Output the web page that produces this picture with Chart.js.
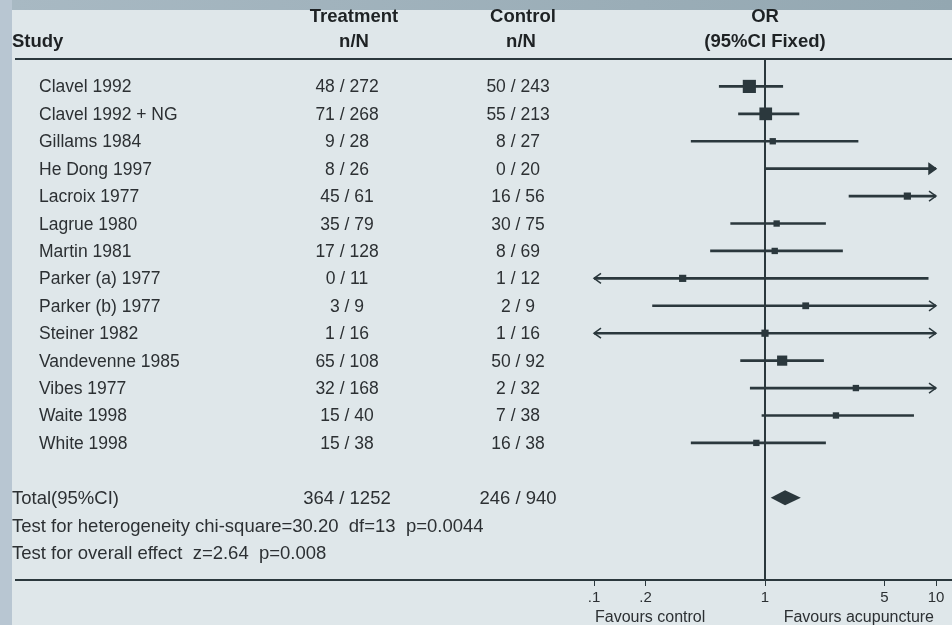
<!DOCTYPE html>
<html>
<head>
<meta charset="utf-8">
<script src="https://cdn.jsdelivr.net/npm/chart.js@4.4.0/dist/chart.umd.min.js"></script>
<style>
  html, body { margin: 0; padding: 0; }
  body { width: 952px; height: 625px; background: #b8c6d2; position: relative; overflow: hidden; }
  #band { position: absolute; left: 12px; top: 0; width: 940px; height: 10px; background: linear-gradient(90deg, #a8b9c3, #93a7b1); }
  #panel { position: absolute; left: 12px; top: 10px; width: 940px; height: 615px; background: #dfe7ea; }
  #wrap { position: absolute; left: 0; top: 0; width: 952px; height: 625px; }
</style>
</head>
<body>
<div id="band"></div>
<div id="panel"></div>
<div id="wrap"><canvas id="forestChart"></canvas></div>
<script>
const studies = ['Clavel 1992', 'Clavel 1992 + NG', 'Gillams 1984', 'He Dong 1997', 'Lacroix 1977',
  'Lagrue 1980', 'Martin 1981', 'Parker (a) 1977', 'Parker (b) 1977', 'Steiner 1982',
  'Vandevenne 1985', 'Vibes 1977', 'Waite 1998', 'White 1998'];
const treatEvents = [48, 71, 9, 8, 45, 35, 17, 0, 3, 1, 65, 32, 15, 15];
const treatTotal = [272, 268, 28, 26, 61, 79, 128, 11, 9, 16, 108, 168, 40, 38];
const ctrlEvents = [50, 55, 8, 0, 16, 30, 8, 1, 2, 1, 50, 2, 7, 16];
const ctrlTotal = [243, 213, 27, 20, 56, 75, 69, 12, 9, 16, 92, 32, 38, 38];

// odds ratios; values beyond the axis end in arrows
const oddsRatio = [0.81, 1.01, 1.11, 18.8, 6.8, 1.17, 1.14, 0.33, 1.73, 1.0, 1.26, 3.4, 2.6, 0.89];
const ciLower = [0.54, 0.70, 0.37, 1.0, 3.1, 0.63, 0.48, 0.012, 0.22, 0.06, 0.72, 0.82, 0.96, 0.37];
const ciUpper = [1.27, 1.58, 3.5, 357, 15.9, 2.26, 2.84, 9.0, 14, 17, 2.2, 15.5, 7.4, 2.26];
const weights = [30, 28, 7, 1, 9, 7, 7, 9, 8, 9, 18, 7, 7, 7];

const pooledOR = 1.31;
const pooledCI = [1.08, 1.62];
const totalTreat = [364, 1252];
const totalCtrl = [246, 940];
const heterogeneityNote = 'Test for heterogeneity chi-square=30.20  df=13  p=0.0044';
const effectNote = 'Test for overall effect  z=2.64  p=0.008';

const tickValues = [0.1, 0.2, 1, 5, 10];
const tickLabels = ['.1', '.2', '1', '5', '10'];

const TOTAL_ROW = 15, HET_ROW = 16, EFFECT_ROW = 17;
const ink = '#2b383d';
const family = '"Liberation Sans", Arial, sans-serif';

const forestDecor = {
  id: 'forestDecor',
  beforeDatasetsDraw(chart) {
    const { ctx, chartArea, scales: { x } } = chart;
    ctx.save();
    ctx.strokeStyle = ink;
    ctx.lineWidth = 2;
    ctx.beginPath();
    ctx.moveTo(15, chartArea.top); ctx.lineTo(952, chartArea.top);
    ctx.moveTo(15, chartArea.bottom); ctx.lineTo(952, chartArea.bottom);
    const x1 = x.getPixelForValue(1);
    ctx.moveTo(x1, chartArea.top); ctx.lineTo(x1, chartArea.bottom);
    ctx.stroke();
    ctx.restore();
  },
  afterDatasetsDraw(chart) {
    const { ctx, chartArea, scales: { x, y } } = chart;
    ctx.save();
    ctx.strokeStyle = ink;
    ctx.fillStyle = ink;
    ctx.lineWidth = 1.5;
    // arrows where the interval runs off the axis
    studies.forEach((s, i) => {
      const py = y.getPixelForValue(i);
      if (ciLower[i] < x.min) {
        const l = chartArea.left;
        ctx.beginPath();
        ctx.moveTo(l + 7, py - 5); ctx.lineTo(l, py); ctx.lineTo(l + 7, py + 5);
        ctx.stroke();
      }
      if (ciUpper[i] > x.max) {
        const r = chartArea.right;
        ctx.beginPath();
        ctx.moveTo(r - 7, py - 5); ctx.lineTo(r, py); ctx.lineTo(r - 7, py + 5);
        if (oddsRatio[i] > x.max) { ctx.closePath(); ctx.fill(); }
        ctx.stroke();
      }
    });
    // pooled estimate diamond
    const dy = y.getPixelForValue(TOTAL_ROW);
    ctx.beginPath();
    ctx.moveTo(x.getPixelForValue(pooledCI[0]), dy);
    ctx.lineTo(x.getPixelForValue(pooledOR), dy - 7.5);
    ctx.lineTo(x.getPixelForValue(pooledCI[1]), dy);
    ctx.lineTo(x.getPixelForValue(pooledOR), dy + 7.5);
    ctx.closePath();
    ctx.fill();

    // table text
    const put = (str, px, py, align, font, color) => {
      ctx.font = font;
      ctx.textAlign = align;
      ctx.fillStyle = color;
      ctx.fillText(str, px, py);
    };
    const head = 'bold 18.5px ' + family;
    const body = '17.5px ' + family;
    const note = '18.5px ' + family;
    const hc = '#1e2224', bc = '#2c3033';
    const xOne = x.getPixelForValue(1);
    put('Study', 12, 47, 'left', head, hc);
    put('Treatment', 354, 22, 'center', head, hc);
    put('n/N', 354, 47, 'center', head, hc);
    put('Control', 523, 22, 'center', head, hc);
    put('n/N', 521, 47, 'center', head, hc);
    put('OR', xOne, 22, 'center', head, hc);
    put('(95%CI Fixed)', xOne, 47, 'center', head, hc);

    studies.forEach((s, i) => {
      const py = y.getPixelForValue(i) + 6;
      put(s, 39, py, 'left', body, bc);
      put(treatEvents[i] + ' / ' + treatTotal[i], 347, py, 'center', body, bc);
      put(ctrlEvents[i] + ' / ' + ctrlTotal[i], 518, py, 'center', body, bc);
    });
    const ty = y.getPixelForValue(TOTAL_ROW) + 6.5;
    put('Total(95%CI)', 12, ty, 'left', note, bc);
    put(totalTreat[0] + ' / ' + totalTreat[1], 347, ty, 'center', note, bc);
    put(totalCtrl[0] + ' / ' + totalCtrl[1], 518, ty, 'center', note, bc);
    put(heterogeneityNote, 12, y.getPixelForValue(HET_ROW) + 6.5, 'left', note, bc);
    put(effectNote, 12, y.getPixelForValue(EFFECT_ROW) + 6.5, 'left', note, bc);

    const fy = chartArea.bottom + 42;
    put('Favours control', chartArea.left + 1, fy, 'left', '16px ' + family, bc);
    put('Favours acupuncture', chartArea.right - 2, fy, 'right', '16px ' + family, bc);
    ctx.restore();
  }
};

new Chart(document.getElementById('forestChart'), {
  data: {
    datasets: [{
      type: 'scatter',
      data: studies.map((s, i) => ({ x: oddsRatio[i], y: i })),
      pointStyle: 'rect',
      pointRadius: weights.map(w => Math.max(6, 2.4 * Math.sqrt(w)) / Math.SQRT2),
      pointBackgroundColor: ink,
      pointBorderWidth: 0,
      order: 1
    }, {
      type: 'bar',
      indexAxis: 'y',
      data: studies.map((s, i) => ({ x: [ciLower[i], ciUpper[i]], y: i })),
      backgroundColor: ink,
      barThickness: 2,
      borderWidth: 0,
      borderSkipped: false,
      order: 2
    }]
  },
  options: {
    responsive: true,
    maintainAspectRatio: false,
    animation: false,
    events: [],
    layout: { padding: { left: 594, right: 16, top: 59, bottom: 0 } },
    scales: {
      x: {
        type: 'logarithmic',
        position: 'bottom',
        min: 0.1,
        max: 10,
        offset: false,
        afterBuildTicks(scale) { scale.ticks = tickValues.map(v => ({ value: v })); },
        afterFit(scale) { scale.height = 45; },
        ticks: {
          autoSkip: false,
          maxRotation: 0,
          padding: 3,
          color: '#2c3033',
          font: { family: family, size: 15 },
          callback: (v, i) => tickLabels[i]
        },
        grid: { drawOnChartArea: false, drawTicks: true, tickLength: 6, color: ink, lineWidth: 1 },
        border: { display: false }
      },
      y: { type: 'linear', min: -1, max: 18, reverse: true, offset: false, display: false }
    },
    plugins: { legend: { display: false }, tooltip: { enabled: false } }
  },
  plugins: [forestDecor]
});
</script>
</body>
</html>
